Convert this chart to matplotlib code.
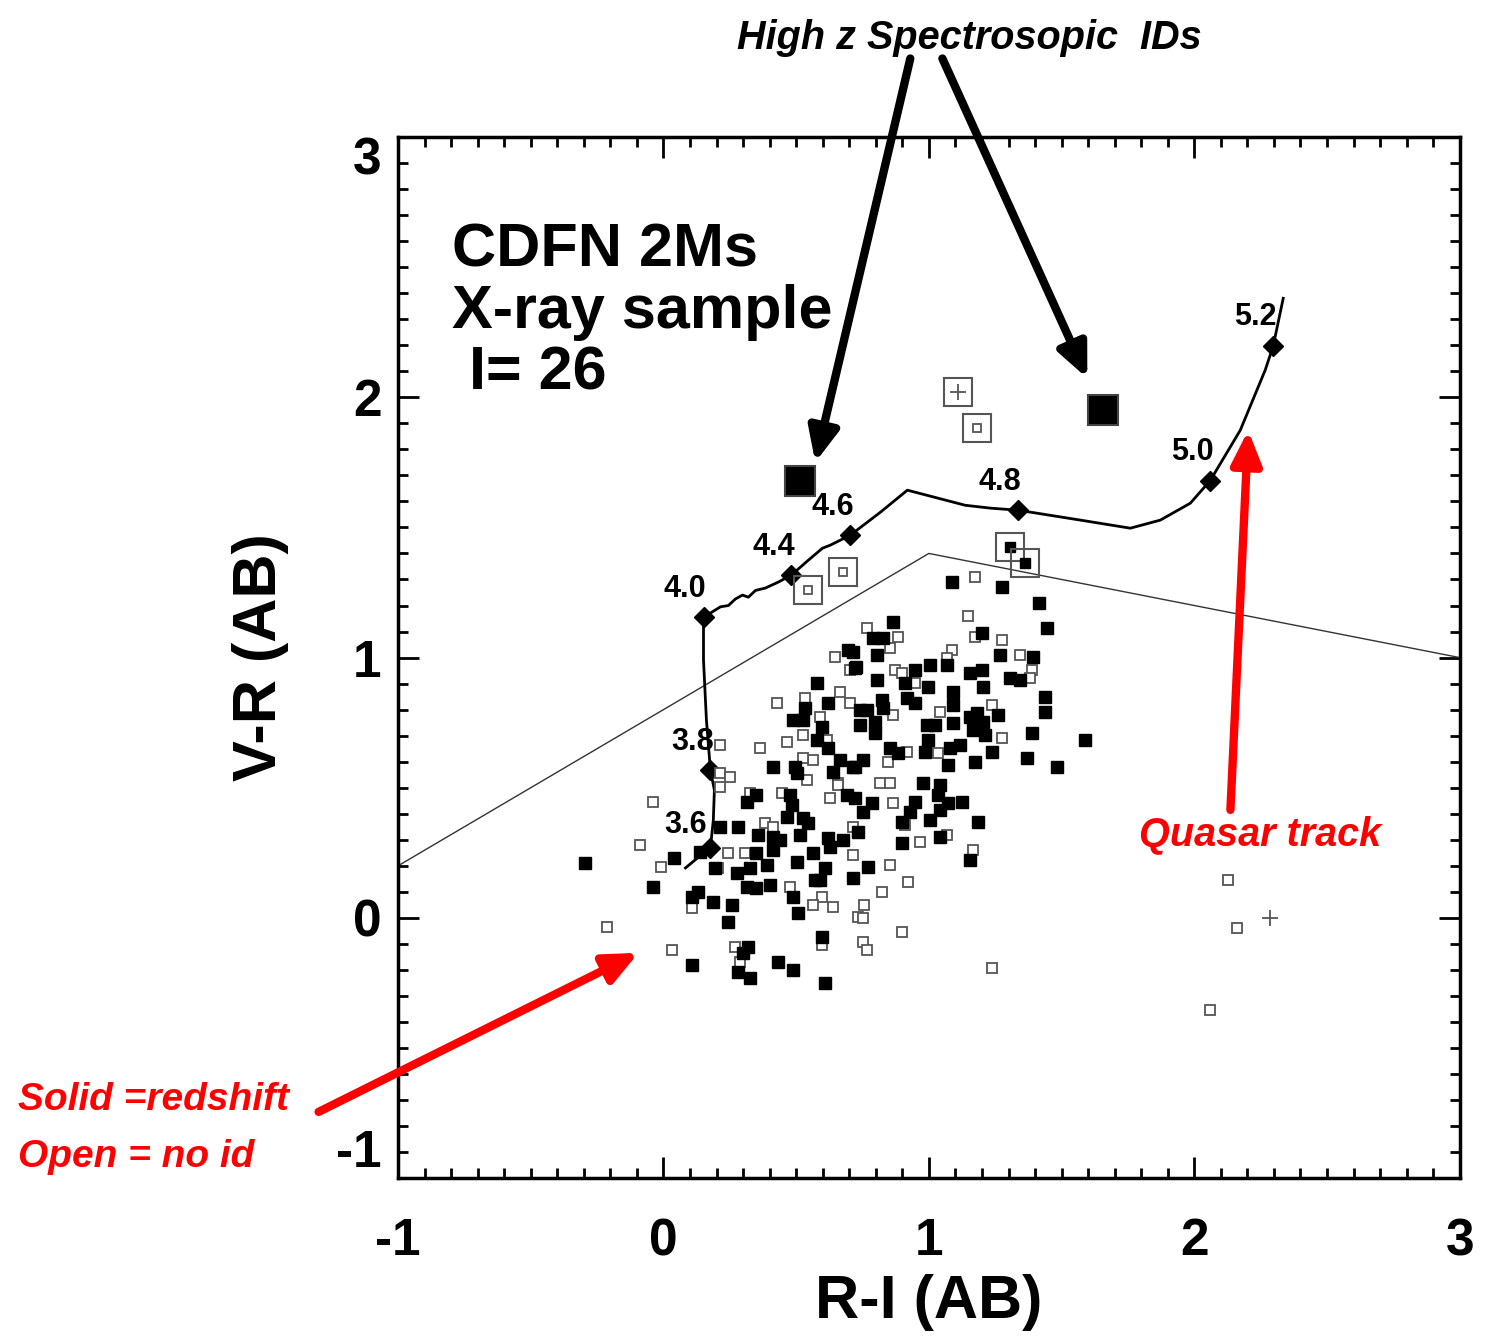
import numpy as np
import matplotlib
matplotlib.use("Agg")
import matplotlib.pyplot as plt
from matplotlib.ticker import MultipleLocator

plt.rcParams["font.family"] = ["Liberation Sans", "DejaVu Sans"]

# --- X-ray sources with redshift (solid) ---
solid_ri = [0.697, 0.723, 0.580, 0.535, 0.490, 0.527, 0.621, 0.599, 0.580, 0.621,
            0.667, 0.716, 0.411, 0.497, 0.505, 0.640, 1.089, 1.277, 1.416, 1.446,
            0.866, 0.791, 0.829, 0.716, 0.806, 0.727, 0.949, 1.006, 1.070, 1.202,
            1.269, 1.394, 1.156, 1.202, 1.205, 1.307, 1.345, 0.806, 0.911, 0.998,
            1.092, 0.825, 0.919, 0.949, 1.092, 0.829, 0.742, 0.768, 1.439, 1.439,
            1.156, 1.183, 1.205, 1.262, 0.994, 1.024, 1.092, 0.742, 0.798, 0.798,
            1.168, 1.213, 1.390, 0.998, 0.987, 0.855, 0.885, 1.081, 1.119, 1.239,
            1.371, 1.175, 1.073, 1.484, 0.753, 0.723, 0.979, 1.043, 0.215, 0.282,
            0.347, 0.316, 0.478, 0.486, 0.467, 0.527, 0.546, 0.693, 0.723, 0.358,
            0.411, 0.441, 0.414, 0.516, 0.621, 0.629, 0.678, 0.565, 0.347, 0.392,
            0.328, 0.279, 0.505, 0.610, 0.572, 0.591, 0.716, 0.038, 0.139, 0.196,
            -0.041, 0.316, 0.347, 0.403, 0.109, 0.132, 0.188, 0.260, 0.490, 0.508,
            0.245, 0.599, 0.320, 0.301, 0.109, 0.433, 0.490, 0.282, 0.328, 0.610,
            1.036, 0.787, 0.750, 0.949, 0.930, 0.900, 1.006, 1.043, 1.073, 1.126,
            1.186, 0.734, 0.900, 1.043, 1.156, 0.772, -0.294, 1.589]
solid_vr = [1.029, 0.960, 0.902, 0.806, 0.760, 0.760, 0.825, 0.733, 0.683, 0.653,
            0.607, 0.580, 0.580, 0.580, 0.557, 0.560, 1.290, 1.271, 1.209, 1.113,
            1.136, 1.075, 1.075, 1.021, 1.010, 0.964, 0.952, 0.971, 0.971, 1.094,
            1.010, 1.002, 0.941, 0.952, 0.887, 0.921, 0.914, 0.914, 0.902, 0.887,
            0.868, 0.837, 0.845, 0.825, 0.818, 0.806, 0.798, 0.798, 0.848, 0.791,
            0.772, 0.787, 0.752, 0.779, 0.741, 0.741, 0.749, 0.741, 0.752, 0.710,
            0.722, 0.702, 0.710, 0.683, 0.637, 0.653, 0.633, 0.653, 0.664, 0.637,
            0.614, 0.599, 0.587, 0.580, 0.607, 0.580, 0.518, 0.511, 0.349, 0.349,
            0.472, 0.445, 0.472, 0.434, 0.388, 0.384, 0.365, 0.472, 0.461, 0.319,
            0.311, 0.299, 0.261, 0.319, 0.307, 0.273, 0.299, 0.250, 0.250, 0.203,
            0.192, 0.173, 0.215, 0.192, 0.146, 0.146, 0.154, 0.230, 0.253, 0.192,
            0.119, 0.119, 0.115, 0.127, 0.081, 0.100, 0.061, 0.050, 0.081, 0.019,
            -0.015, -0.073, -0.111, -0.134, -0.180, -0.169, -0.200, -0.207, -0.230, -0.250,
            0.472, 0.441, 0.407, 0.445, 0.407, 0.369, 0.376, 0.415, 0.441, 0.445,
            0.369, 0.330, 0.288, 0.311, 0.223, 0.196, 0.211, 0.683]

# --- X-ray sources without id (open) ---
open_ri = [0.648, 0.704, 0.429, 0.535, 0.667, 0.704, 0.591, 0.467, 0.527, 0.365,
           0.215, 0.618, 0.565, 0.527, 0.215, 0.252, 0.659, 0.542, 1.175, 1.149,
           0.768, 0.885, 0.855, 1.089, 1.070, 1.175, 1.277, 1.345, 1.390, 1.382,
           0.874, 0.900, 0.949, 1.043, 1.239, 1.277, 0.866, 0.919, 1.036, 0.847,
           0.817, 0.855, -0.041, 0.215, 0.328, 0.448, 0.629, 0.659, 0.384, 0.414,
           0.716, 0.245, 0.309, -0.011, -0.087, 0.207, 0.716, 0.478, 0.599, 0.565,
           0.637, 0.109, 0.734, 0.599, 0.271, 0.034, 0.290, 0.866, 0.911, 0.968,
           1.070, 1.168, 0.855, 0.923, 0.825, 0.757, 0.750, 0.900, 0.753, 0.768,
           1.239, -0.211, 2.128, 2.162, 2.060]
open_vr = [1.002, 0.952, 0.825, 0.845, 0.868, 0.825, 0.772, 0.676, 0.702, 0.653,
           0.664, 0.683, 0.607, 0.614, 0.557, 0.541, 0.518, 0.530, 1.309, 1.159,
           1.113, 1.079, 1.036, 1.029, 0.998, 1.079, 1.067, 1.010, 0.952, 0.921,
           0.952, 0.941, 0.902, 0.791, 0.818, 0.691, 0.779, 0.637, 0.633, 0.599,
           0.518, 0.518, 0.445, 0.503, 0.480, 0.480, 0.461, 0.511, 0.365, 0.349,
           0.349, 0.250, 0.250, 0.196, 0.280, 0.192, 0.242, 0.119, 0.081, 0.050,
           0.042, 0.038, 0.004, -0.104, -0.111, -0.123, -0.169, 0.441, 0.357, 0.292,
           0.319, 0.261, 0.203, 0.138, 0.100, 0.050, 0.000, -0.054, -0.092, -0.123,
           -0.192, -0.035, 0.146, -0.038, -0.353]

# --- high-z spectroscopic IDs (big filled) ---
hiz_ri = [0.516, 1.657]
hiz_vr = [1.68, 1.95]

# --- big open boxes and what sits inside them ---
box_ri = [1.111, 1.183, 0.678, 0.546, 1.307, 1.363]
box_vr = [2.02, 1.88, 1.33, 1.26, 1.424, 1.363]
box_inner = ["plus", "open", "open", "open", "solid", "solid"]

star_ri = [2.286]      # lone "+" source
star_vr = [0.0]

# --- quasar colour track ---
track_ri = [0.083, 0.128, 0.177, 0.188, 0.192, 0.177, 0.162, 0.151, 0.151,
            0.215, 0.245, 0.271, 0.298, 0.320, 0.347, 0.384, 0.433, 0.482,
            0.546, 0.599, 0.629, 0.704, 0.817, 0.919, 1.137, 1.232, 1.337,
            1.571, 1.759, 1.872, 1.985, 2.060, 2.173, 2.267, 2.297, 2.335]
track_vr = [0.192, 0.230, 0.269, 0.376, 0.491, 0.568, 0.760, 0.990, 1.155,
            1.195, 1.200, 1.225, 1.240, 1.232, 1.258, 1.267, 1.290, 1.317,
            1.374, 1.420, 1.432, 1.470, 1.558, 1.643, 1.585, 1.574, 1.566,
            1.528, 1.497, 1.528, 1.593, 1.680, 1.873, 2.104, 2.196, 2.380]
z_vals = ["3.6", "3.8", "4.0", "4.4", "4.6", "4.8", "5.0", "5.2"]
z_ri = [0.177, 0.177, 0.151, 0.482, 0.704, 1.337, 2.060, 2.297]
z_vr = [0.269, 0.568, 1.155, 1.317, 1.470, 1.566, 1.680, 2.196]
zlab_ri = [0.083, 0.109, 0.079, 0.414, 0.637, 1.269, 1.992, 2.230]
zlab_vr = [0.357, 0.676, 1.263, 1.424, 1.578, 1.674, 1.789, 2.307]

# --- colour selection boundary ---
cut_ri = [-1.0, 1.0, 3.0]
cut_vr = [0.2, 1.4, 1.0]

ticks = [-1, 0, 1, 2, 3]
tick_labels = ["-1", "0", "1", "2", "3"]

fig = plt.figure(figsize=(14.85, 13.42), dpi=100)
ax = fig.add_axes([0.268, 0.122, 0.715, 0.776])

ax.plot(cut_ri, cut_vr, "-", color="#333333", lw=1.0)
ax.plot(track_ri, track_vr, "-", color="black", lw=2.0)
ax.plot(z_ri, z_vr, "D", color="black", ms=10)
for lab, x, y in zip(z_vals, zlab_ri, zlab_vr):
    ax.text(x, y, lab, fontsize=22, fontweight="bold", ha="center", va="center")

ax.plot(open_ri, open_vr, "s", mfc="white", mec="#555555", mew=1.3, ms=7)
ax.plot(solid_ri, solid_vr, "s", color="black", ms=8)
ax.plot(hiz_ri, hiz_vr, "s", mfc="black", mec="#444444", mew=1.5, ms=21)

for x, y, kind in zip(box_ri, box_vr, box_inner):
    ax.plot(x, y, "s", mfc="none", mec="#555555", mew=1.5, ms=20)
    if kind == "plus":
        ax.plot(x, y, "+", color="#555555", mew=1.3, ms=11)
    elif kind == "open":
        ax.plot(x, y, "s", mfc="white", mec="#555555", mew=1.3, ms=6)
    else:
        ax.plot(x, y, "s", color="black", ms=7)
ax.plot(star_ri, star_vr, "+", color="#555555", mew=1.3, ms=12)

ax.set_xlim(-1, 3)
ax.set_ylim(-1, 3)
ax.xaxis.set_minor_locator(MultipleLocator(0.1))
ax.yaxis.set_minor_locator(MultipleLocator(0.1))
ax.tick_params(which="both", direction="in", top=True, right=True, width=2)
ax.tick_params(which="major", length=15)
ax.tick_params(which="minor", length=7)
ax.tick_params(axis="x", pad=28)
ax.tick_params(axis="y", pad=12)
ax.set_xticks(ticks)
ax.set_xticklabels(tick_labels, fontsize=37, fontweight="bold")
ax.set_yticks(ticks)
ylabs = ax.set_yticklabels(tick_labels, fontsize=37, fontweight="bold")
ylabs[0].set_va("bottom")   # end labels kept inside the frame, as in the original
ylabs[-1].set_va("top")
for s in ax.spines.values():
    s.set_linewidth(2.5)

ax.set_xlabel("R-I (AB)", fontsize=44, fontweight="bold", labelpad=6)
ax.set_ylabel("V-R (AB)", fontsize=44, fontweight="bold", labelpad=34)

ax.text(0.051, 0.918, "CDFN 2Ms\nX-ray sample\n I= 26", transform=ax.transAxes,
        fontsize=44, fontweight="bold", ha="left", va="top", linespacing=1.1)

# annotations
blk = dict(arrowstyle="-|>,head_length=2.0,head_width=0.9", color="black", lw=6,
           shrinkA=0, shrinkB=0)
ax.annotate("", xy=(0.572, 1.750), xytext=(0.930, 3.301), arrowprops=blk,
            annotation_clip=False)
ax.annotate("", xy=(1.597, 2.073), xytext=(1.051, 3.301), arrowprops=blk,
            annotation_clip=False)
red = dict(arrowstyle="-|>,head_length=2.0,head_width=0.9", color="red", lw=6,
           shrinkA=0, shrinkB=0)
ax.annotate("", xy=(2.203, 1.873), xytext=(2.136, 0.415), arrowprops=red,
            annotation_clip=False)
ax.annotate("", xy=(-0.094, -0.134), xytext=(-1.299, -0.745), arrowprops=red,
            annotation_clip=False)

fig.text(0.653, 0.972, "High z Spectrosopic  IDs", fontsize=28.5,
         fontweight="bold", style="italic", ha="center", va="center")
ax.text(2.249, 0.319, "Quasar track", fontsize=28.5, color="red",
        fontweight="bold", style="italic", ha="center", va="center")
fig.text(0.012, 0.180, "Solid =redshift", fontsize=28, color="red",
         fontweight="bold", style="italic", ha="left", va="center")
fig.text(0.012, 0.138, "Open = no id", fontsize=28, color="red",
         fontweight="bold", style="italic", ha="left", va="center")

fig.savefig("out.png", dpi=100)
